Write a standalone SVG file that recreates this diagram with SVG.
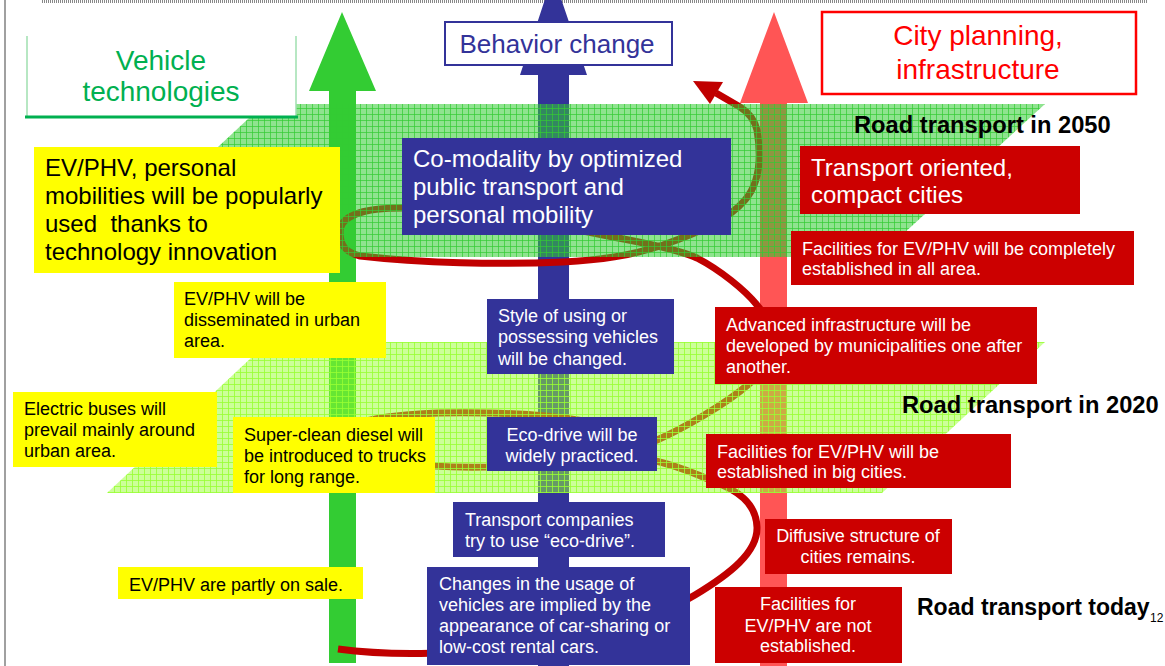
<svg xmlns="http://www.w3.org/2000/svg" width="1165" height="666" viewBox="0 0 1165 666">
<style>
text{font-family:"Liberation Sans",Arial,sans-serif}
.s{font-size:18px}
.b{font-size:24px}
.w{fill:#ffffff}
.k{fill:#000000}
.yb{fill:#ffff00}
.bb{fill:#333399}
.rb{fill:#cc0000}
.road{font-size:23.7px;font-weight:bold;fill:#000}
</style>
<defs>
<pattern id="pu" width="6" height="6" patternUnits="userSpaceOnUse">
<rect width="6" height="6" fill="#33cc33" fill-opacity="0.55"/>
<path d="M0 0.5H6M0.5 0V6" stroke="#33cc33" stroke-width="1" stroke-opacity="0.7"/>
</pattern>
<pattern id="pl" width="6" height="6" patternUnits="userSpaceOnUse">
<rect width="6" height="6" fill="#99ff33" fill-opacity="0.5"/>
<path d="M0 0.5H6M0.5 0V6" stroke="#99ff33" stroke-width="1" stroke-opacity="0.8"/>
</pattern>
</defs>
<rect width="1165" height="666" fill="#ffffff"/>
<line x1="42" y1="1.5" x2="1148" y2="1.5" stroke="#888" stroke-width="3" stroke-dasharray="1 1"/>
<line x1="5" y1="0" x2="5" y2="666" stroke="#808080" stroke-width="1.5"/>

<g id="axes">
<polygon id="arrow-green" fill="#33cc33" points="342,12 376,91 356,91 356,663 329,663 329,91 309,91"/>
<polygon id="arrow-blue" fill="#333399" points="553,-25 587,75 569,75 569,666 538,666 538,75 520,75"/>
<polygon id="arrow-red" fill="#ff5555" points="774,12 808,103 787,103 787,666 760,666 760,103 740,103"/>
</g>

<g id="connectors">
<path fill="none" stroke="#c00000" stroke-width="7" stroke-linecap="butt" d="M338,649 C450,664 620,640 695,595 C730,574 758,552 757,527 C756,503 738,490 710,480 C690,471 655,458 620,455 C585,452 520,462 487,467 C430,468 345,462 340,440 C336,420 400,411 487,413 C560,414 620,425 657,440 C680,430 725,405 750,383 C770,365 775,325 757,305 C745,290 720,270 697,258 C680,250 640,242 613,237 C540,222 460,208 402,208 C365,208 340,215 340,232 C340,245 345,252 360,256 C420,263 500,265 563,262 C600,260 630,256 663,245 C700,232 728,220 745,200 C758,185 762,160 757,130 C754,118 748,112 740,107 L716,93"/>
<polygon fill="#c00000" points="693,81 723,82 710,104"/>
</g>

<g id="planes">
<polygon id="plane-2050" fill="url(#pu)" points="264,104 1045,104 878,257 100,257"/>
<polygon id="plane-2020" fill="url(#pl)" points="268,342 1045,342 882,493 107,493"/>
</g>

<g id="title-vehicle">
<rect x="27" y="36" width="269" height="81" fill="#ffffff"/>
<path d="M27 36V117M296 36V117" stroke="#a0e0b0" stroke-width="1.5" fill="none"/>
<line x1="25" y1="117" x2="298" y2="117" stroke="#00b050" stroke-width="3"/>
<text x="161" y="70" text-anchor="middle" font-size="28" fill="#00b050">Vehicle</text>
<text x="161" y="101" text-anchor="middle" font-size="28" fill="#00b050">technologies</text>
</g>

<g id="title-behavior">
<rect x="445" y="22" width="227" height="43" fill="#ffffff" stroke="#333399" stroke-width="2"/>
<text x="557" y="53" text-anchor="middle" font-size="26" fill="#333399">Behavior change</text>
</g>

<g id="title-city">
<rect x="822" y="12" width="314" height="82" fill="#ffffff" stroke="#ff0000" stroke-width="2.5"/>
<text x="978" y="45" text-anchor="middle" font-size="28" fill="#ff0000">City planning,</text>
<text x="978" y="79" text-anchor="middle" font-size="28" fill="#ff0000">infrastructure</text>
</g>

<g id="label-2050"><text class="road" x="854" y="133">Road transport in 2050</text></g>
<g id="label-2020"><text class="road" x="902" y="413">Road transport in 2020</text></g>
<g id="label-today"><text class="road" x="917" y="615" style="font-size:23px">Road transport today</text><text x="1150" y="622" font-size="12" fill="#000">12</text></g>

<g id="y1"><rect class="yb" x="34" y="147" width="306" height="126"/>
<text class="b k"><tspan x="45" y="176">EV/PHV, personal</tspan><tspan x="45" y="204">mobilities will be popularly</tspan><tspan x="45" y="232">used&#160; thanks to</tspan><tspan x="45" y="260">technology innovation</tspan></text></g>
<g id="y2"><rect class="yb" x="174" y="282" width="212" height="76"/>
<text class="s k"><tspan x="184" y="305">EV/PHV will be</tspan><tspan x="184" y="326">disseminated in urban</tspan><tspan x="184" y="347">area.</tspan></text></g>
<g id="y3"><rect class="yb" x="13" y="392" width="204" height="75"/>
<text class="s k"><tspan x="24" y="415">Electric buses will</tspan><tspan x="24" y="436">prevail mainly around</tspan><tspan x="24" y="457">urban area.</tspan></text></g>
<g id="y4"><rect class="yb" x="233" y="417" width="202" height="76"/>
<text class="s k"><tspan x="244" y="441">Super-clean diesel will</tspan><tspan x="244" y="462">be introduced to trucks</tspan><tspan x="244" y="483">for long range.</tspan></text></g>
<g id="y5"><rect class="yb" x="118" y="567" width="245" height="32"/>
<text class="s k" x="129" y="591">EV/PHV are partly on sale.</text></g>

<g id="b1"><rect class="bb" x="402" y="138" width="329" height="97"/>
<text class="b w"><tspan x="413" y="167">Co-modality by optimized</tspan><tspan x="413" y="195">public transport and</tspan><tspan x="413" y="223">personal mobility</tspan></text></g>
<g id="b2"><rect class="bb" x="487" y="299" width="187" height="75"/>
<text class="s w"><tspan x="498" y="322">Style of using or</tspan><tspan x="498" y="343">possessing vehicles</tspan><tspan x="498" y="365">will be changed.</tspan></text></g>
<g id="b3"><rect class="bb" x="487" y="417" width="170" height="54"/>
<text class="s w" text-anchor="middle"><tspan x="572" y="441">Eco-drive will be</tspan><tspan x="572" y="462">widely practiced.</tspan></text></g>
<g id="b4"><rect class="bb" x="453" y="502" width="212" height="55"/>
<text class="s w"><tspan x="465" y="526">Transport companies</tspan><tspan x="465" y="547">try to use “eco-drive”.</tspan></text></g>
<g id="b5"><rect class="bb" x="427" y="567" width="263" height="98"/>
<text class="s w"><tspan x="439" y="590">Changes in the usage of</tspan><tspan x="439" y="611">vehicles are implied by the</tspan><tspan x="439" y="632">appearance of car-sharing or</tspan><tspan x="439" y="653">low-cost rental cars.</tspan></text></g>

<g id="r1"><rect class="rb" x="800" y="146" width="280" height="68"/>
<text class="b w"><tspan x="811" y="176">Transport oriented,</tspan><tspan x="811" y="203">compact cities</tspan></text></g>
<g id="r2"><rect class="rb" x="791" y="231" width="343" height="54"/>
<text class="s w"><tspan x="802" y="255">Facilities for EV/PHV will be completely</tspan><tspan x="802" y="275">established in all area.</tspan></text></g>
<g id="r3"><rect class="rb" x="715" y="307" width="322" height="77"/>
<text class="s w"><tspan x="726" y="331">Advanced infrastructure will be</tspan><tspan x="726" y="352">developed by municipalities one after</tspan><tspan x="726" y="373">another.</tspan></text></g>
<g id="r4"><rect class="rb" x="706" y="434" width="305" height="54"/>
<text class="s w"><tspan x="717" y="458">Facilities for EV/PHV will be</tspan><tspan x="717" y="478">established in big cities.</tspan></text></g>
<g id="r5"><rect class="rb" x="765" y="519" width="187" height="55"/>
<text class="s w" text-anchor="middle"><tspan x="858" y="542">Diffusive structure of</tspan><tspan x="858" y="563">cities remains.</tspan></text></g>
<g id="r6"><rect class="rb" x="715" y="587" width="187" height="76"/>
<text class="s w" text-anchor="middle"><tspan x="808" y="610">Facilities for</tspan><tspan x="808" y="632">EV/PHV are not</tspan><tspan x="808" y="652">established.</tspan></text></g>
</svg>
